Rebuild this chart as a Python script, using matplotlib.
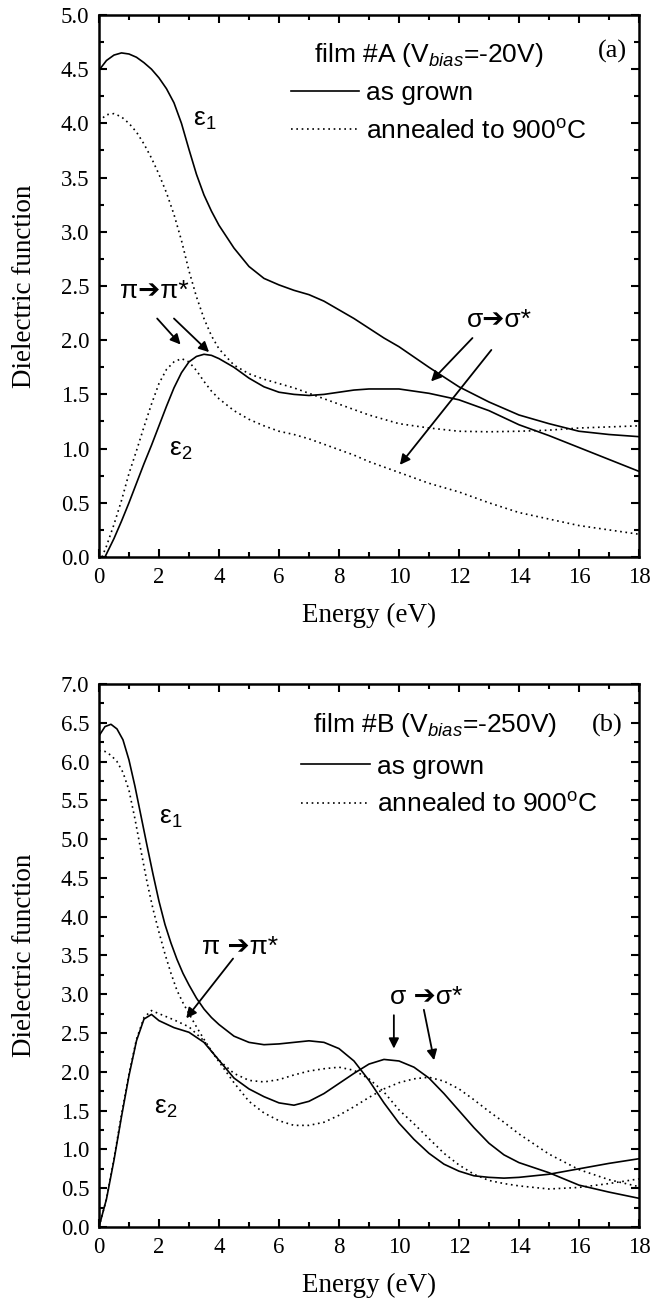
import matplotlib
matplotlib.use("Agg")
import matplotlib.pyplot as plt
from matplotlib.ticker import MultipleLocator, FormatStrFormatter

plt.rcParams['font.family'] = ['Liberation Serif', 'DejaVu Serif']
plt.rcParams['mathtext.fontset'] = 'custom'
plt.rcParams['mathtext.rm'] = 'Liberation Sans'
plt.rcParams['mathtext.it'] = 'Liberation Sans:italic'
plt.rcParams['mathtext.default'] = 'regular'

SANS = ['Liberation Sans', 'DejaVu Sans']

# ---- film A (Vbias = -20 V) ----
eA_e1_grown = [0, 0.25, 0.5, 0.75, 1.0, 1.25, 1.5, 1.75, 2.0, 2.25, 2.5, 2.75, 3.0, 3.25, 3.5, 3.75, 4.0,
               4.5, 5.0, 5.5, 6.0, 6.5, 7, 7.5, 8, 8.5, 9, 9.5, 10, 11, 12, 13, 14, 15, 16, 17, 18]
A_e1_grown = [4.49, 4.58, 4.63, 4.65, 4.64, 4.61, 4.56, 4.50, 4.42, 4.32, 4.19, 4.00, 3.76, 3.53, 3.34, 3.19, 3.06,
              2.85, 2.68, 2.57, 2.51, 2.46, 2.42, 2.36, 2.28, 2.20, 2.11, 2.02, 1.94, 1.75, 1.57, 1.43, 1.31, 1.23, 1.16, 1.13, 1.11]

eA_e1_ann = eA_e1_grown
A_e1_ann = [4.02, 4.08, 4.09, 4.06, 4.00, 3.92, 3.81, 3.68, 3.53, 3.36, 3.16, 2.92, 2.64, 2.40, 2.20, 2.04, 1.92,
            1.77, 1.69, 1.64, 1.60, 1.56, 1.51, 1.46, 1.41, 1.36, 1.31, 1.27, 1.23, 1.19, 1.16, 1.155, 1.16, 1.17, 1.19, 1.20, 1.21]

eA_e2_grown = [0.2, 0.5, 0.75, 1.0, 1.25, 1.5, 1.75, 2.0, 2.25, 2.5, 2.75, 3.0, 3.25, 3.5, 3.75, 4.0, 4.5, 5.0,
               5.5, 6.0, 6.5, 7.0, 7.5, 8.0, 8.5, 9.0, 9.5, 10.0, 10.5, 11.0, 11.5, 12.0, 13, 14, 15, 16, 17, 18]
A_e2_grown = [0.0, 0.17, 0.33, 0.50, 0.68, 0.86, 1.03, 1.21, 1.39, 1.56, 1.70, 1.80, 1.85, 1.87, 1.86, 1.83, 1.75, 1.65,
              1.57, 1.52, 1.50, 1.49, 1.50, 1.52, 1.54, 1.55, 1.55, 1.55, 1.53, 1.51, 1.48, 1.45, 1.35, 1.22, 1.12, 1.01, 0.90, 0.79]

eA_e2_ann = [0.1, 0.25, 0.5, 0.75, 1.0, 1.25, 1.5, 1.75, 2.0, 2.25, 2.5, 2.75, 3.0, 3.25, 3.5, 3.75, 4.0, 4.5, 5.0,
             5.5, 6.0, 6.5, 7, 7.5, 8, 8.5, 9, 9.5, 10, 11, 12, 13, 14, 15, 16, 17, 18]
A_e2_ann = [0.0, 0.10, 0.30, 0.52, 0.77, 0.98, 1.20, 1.41, 1.60, 1.73, 1.80, 1.83, 1.80, 1.72, 1.62, 1.53, 1.46, 1.35, 1.27,
            1.21, 1.16, 1.13, 1.09, 1.04, 0.99, 0.94, 0.88, 0.83, 0.78, 0.68, 0.60, 0.50, 0.41, 0.35, 0.29, 0.25, 0.21]

# ---- film B (Vbias = -250 V) ----
eB_e1 = [0, 0.2, 0.4, 0.6, 0.8, 1.0, 1.2, 1.4, 1.6, 1.8, 2.0, 2.2, 2.4, 2.6, 2.8, 3.0, 3.25, 3.5, 3.75, 4.0,
         4.5, 5.0, 5.5, 6.0, 6.5, 7.0, 7.5, 8.0, 8.5, 9.0, 9.5, 10.0, 10.5, 11.0, 11.5, 12.0, 12.5, 13.0, 13.5,
         14, 15, 16, 17, 18]
B_e1_grown = [6.33, 6.45, 6.48, 6.42, 6.28, 6.02, 5.68, 5.30, 4.92, 4.55, 4.20, 3.90, 3.66, 3.45, 3.27, 3.12, 2.95, 2.81, 2.70, 2.61,
              2.46, 2.38, 2.35, 2.36, 2.38, 2.40, 2.38, 2.30, 2.14, 1.89, 1.60, 1.34, 1.13, 0.95, 0.81, 0.72, 0.66, 0.64, 0.63,
              0.64, 0.68, 0.75, 0.82, 0.88]
B_e1_ann = [6.14, 6.13, 6.08, 6.00, 5.86, 5.63, 5.26, 4.85, 4.45, 4.10, 3.80, 3.52, 3.27, 3.05, 2.89, 2.75, 2.58, 2.42, 2.27, 2.15,
            1.98, 1.89, 1.87, 1.90, 1.96, 2.01, 2.04, 2.06, 2.02, 1.91, 1.74, 1.51, 1.33, 1.14, 0.95, 0.80, 0.68, 0.60, 0.56,
            0.53, 0.49, 0.51, 0.56, 0.62]

eB_e2 = [0, 0.25, 0.5, 0.75, 1.0, 1.25, 1.5, 1.75, 2.0, 2.5, 3.0, 3.5, 4.0, 4.5, 5.0, 5.5, 6.0, 6.5, 7.0, 7.5,
         8.0, 8.5, 9.0, 9.5, 10.0, 10.5, 11.0, 11.5, 12.0, 12.5, 13.0, 13.5, 14, 15, 16, 17, 18]
B_e2_grown = [0.0, 0.36, 0.86, 1.42, 1.95, 2.40, 2.68, 2.74, 2.66, 2.57, 2.51, 2.38, 2.15, 1.92, 1.78, 1.68, 1.60, 1.57, 1.62, 1.72,
              1.85, 1.98, 2.10, 2.16, 2.14, 2.06, 1.92, 1.72, 1.50, 1.28, 1.08, 0.93, 0.83, 0.70, 0.54, 0.45, 0.37]
B_e2_ann = [0.0, 0.36, 0.88, 1.45, 1.97, 2.42, 2.70, 2.79, 2.75, 2.67, 2.58, 2.40, 2.13, 1.86, 1.62, 1.47, 1.37, 1.31, 1.31, 1.35,
            1.44, 1.55, 1.67, 1.78, 1.86, 1.91, 1.93, 1.88, 1.78, 1.64, 1.49, 1.35, 1.20, 0.94, 0.74, 0.61, 0.52]

legend_labels = ['as grown', 'annealed to 900$^o$C']

fig = plt.figure(figsize=(6.55, 13.02), dpi=100)
ax1 = fig.add_axes([0.1511, 0.5722, 0.8244, 0.4163])
ax2 = fig.add_axes([0.1511, 0.0576, 0.8244, 0.4171])

solid = dict(color='black', lw=1.2, linestyle='-')
dotted = dict(color='black', lw=1.2, linestyle=(0, (1, 2.2)))


def style(ax, ymax):
    ax.set_xlim(0, 18)
    ax.set_ylim(0, ymax)
    ax.xaxis.set_major_locator(MultipleLocator(2))
    ax.xaxis.set_minor_locator(MultipleLocator(1))
    ax.yaxis.set_major_locator(MultipleLocator(0.5))
    ax.yaxis.set_minor_locator(MultipleLocator(0.25))
    ax.yaxis.set_major_formatter(FormatStrFormatter('%.1f'))
    ax.tick_params(which='both', direction='in', top=True, right=True, width=1.5)
    ax.tick_params(which='major', length=6, labelsize=16.5, pad=7)
    ax.tick_params(which='minor', length=3.5)
    for s in ax.spines.values():
        s.set_linewidth(1.8)
    ax.set_xlabel('Energy (eV)', fontsize=19.5, labelpad=11)
    ax.set_ylabel('Dielectric function', fontsize=19.5, labelpad=17)


def arrow(ax, start, end):
    ax.annotate('', xy=end, xytext=start,
                arrowprops=dict(arrowstyle='-|>', color='black', lw=1.3,
                                mutation_scale=15, shrinkA=0, shrinkB=0))


# ---------- panel (a) ----------
la, = ax1.plot(eA_e1_grown, A_e1_grown, label=legend_labels[0], **solid)
lb, = ax1.plot(eA_e1_ann, A_e1_ann, label=legend_labels[1], **dotted)
ax1.plot(eA_e2_grown, A_e2_grown, **solid)
ax1.plot(eA_e2_ann, A_e2_ann, **dotted)
style(ax1, 5.0)

ax1.text(7.18, 4.63, 'film #A (V$_{\\mathit{bias}}$=-20V)', family=SANS, fontsize=19, va='center')
ax1.text(17.6, 4.66, '(a)', fontsize=19, ha='right', va='center')
ax1.legend(handles=[la, lb], loc='upper left', bbox_to_anchor=(0.355, 0.878), frameon=False,
           prop={'family': SANS, 'size': 19}, handlelength=2.6, handletextpad=0.25,
           labelspacing=0.55, borderpad=0, borderaxespad=0)

ax1.text(3.15, 4.03, '\u03b5$_1$', family=SANS, fontsize=19, va='center')
ax1.text(2.33, 0.99, '\u03b5$_2$', family=SANS, fontsize=19, va='center')

# plain text (no mathtext) so the arrow glyph can fall back to DejaVu Sans
ax1.text(1.85, 2.45, '\u03c0\u2794\u03c0*', family=SANS, fontsize=19, ha='center', va='center')
arrow(ax1, (1.94, 2.20), (2.72, 1.96))
arrow(ax1, (2.50, 2.20), (3.67, 1.89))

ax1.text(13.35, 2.19, '\u03c3\u2794\u03c3*', family=SANS, fontsize=19, ha='center', va='center')
arrow(ax1, (12.45, 2.02), (11.07, 1.62))
arrow(ax1, (13.08, 1.91), (10.03, 0.85))

# ---------- panel (b) ----------
lc, = ax2.plot(eB_e1, B_e1_grown, label=legend_labels[0], **solid)
ld, = ax2.plot(eB_e1, B_e1_ann, label=legend_labels[1], **dotted)
ax2.plot(eB_e2, B_e2_grown, **solid)
ax2.plot(eB_e2, B_e2_ann, **dotted)
style(ax2, 7.0)

ax2.text(7.12, 6.47, 'film #B (V$_{\\mathit{bias}}$=-250V)', family=SANS, fontsize=19, va='center')
ax2.text(17.45, 6.47, '(b)', fontsize=19, ha='right', va='center')
ax2.legend(handles=[lc, ld], loc='upper left', bbox_to_anchor=(0.375, 0.870), frameon=False,
           prop={'family': SANS, 'size': 19}, handlelength=2.6, handletextpad=0.25,
           labelspacing=0.55, borderpad=0, borderaxespad=0)

ax2.text(2.0, 5.27, '\u03b5$_1$', family=SANS, fontsize=19, va='center')
ax2.text(1.84, 1.53, '\u03b5$_2$', family=SANS, fontsize=19, va='center')

ax2.text(4.7, 3.61, '\u03c0 \u2794\u03c0*', family=SANS, fontsize=19, ha='center', va='center')
arrow(ax2, (4.47, 3.46), (2.91, 2.69))

ax2.text(10.9, 2.97, '\u03c3 \u2794\u03c3*', family=SANS, fontsize=19, ha='center', va='center')
arrow(ax2, (9.83, 2.73), (9.83, 2.30))
arrow(ax2, (10.83, 2.80), (11.17, 2.15))

fig.savefig('out.png', dpi=100)
